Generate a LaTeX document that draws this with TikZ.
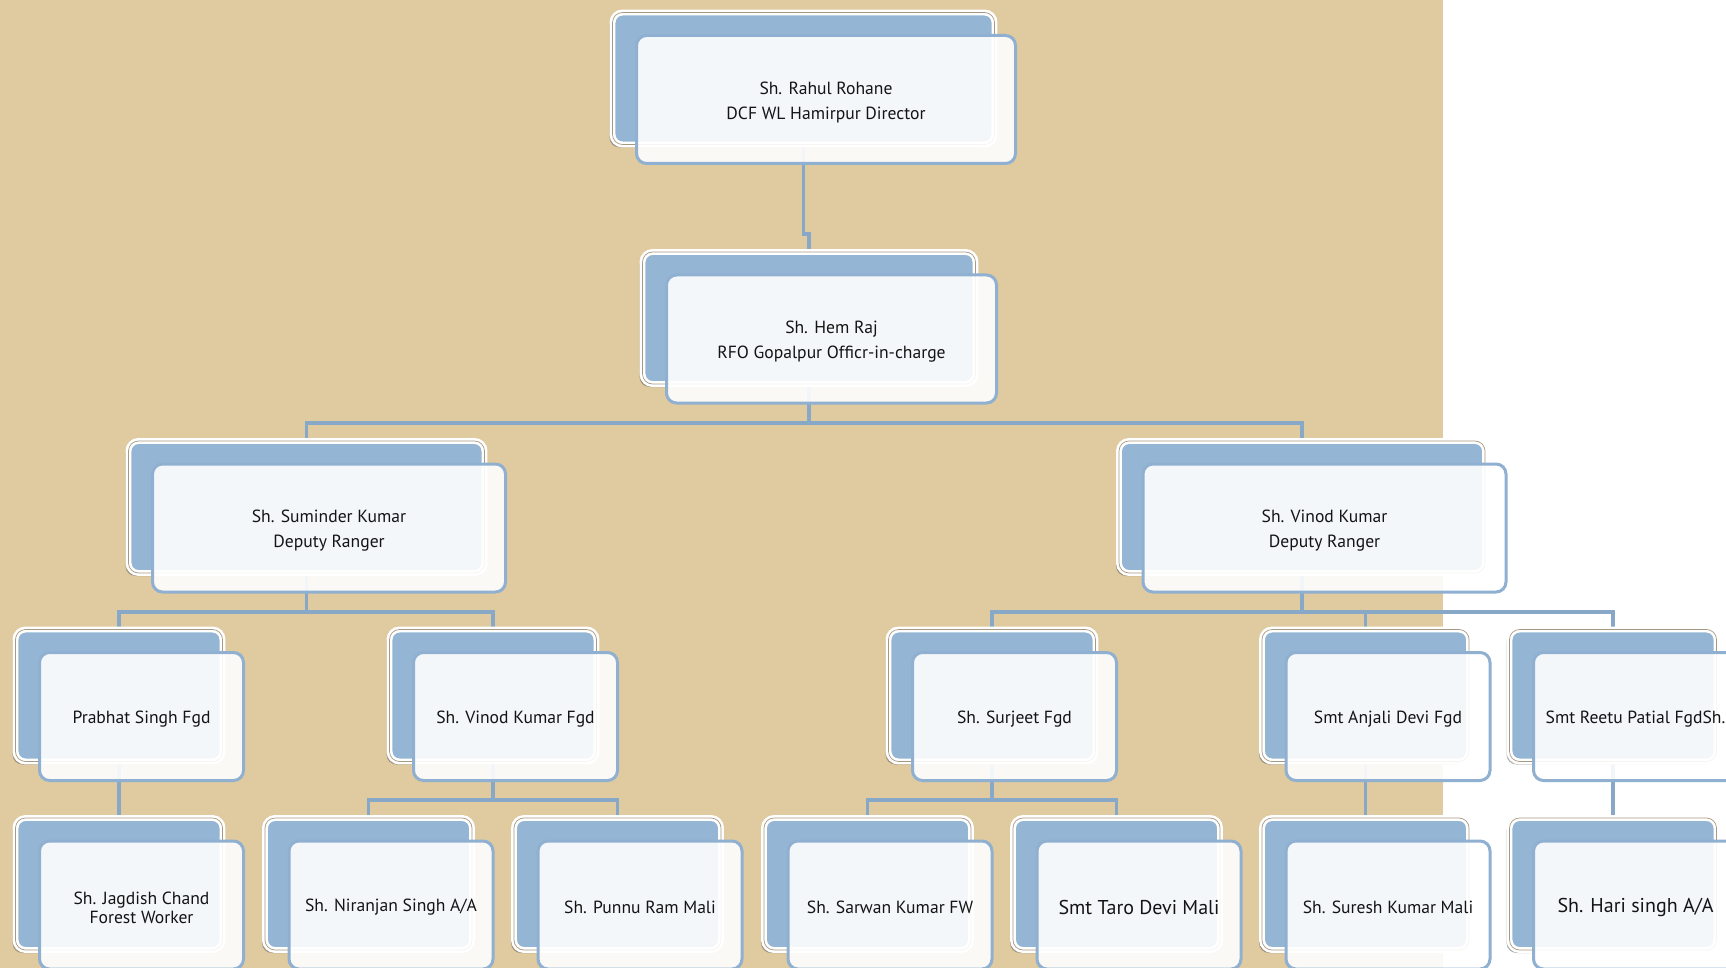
\documentclass[tikz,border=0pt]{standalone}
\usepackage{fontspec}
\setmainfont{PT Sans}
\usetikzlibrary{shadows}
\definecolor{tan}{HTML}{E0CAA0}
\definecolor{bblue}{HTML}{94B5D3}
\definecolor{fblue}{HTML}{8FB0D1}
\definecolor{lblue}{HTML}{88A8C8}
\definecolor{rimgray}{HTML}{A89A82}
\pgfdeclarelayer{paper}
\pgfdeclarelayer{lines}
\pgfsetlayers{paper,lines,main}
\tikzset{
  backbox/.style={rectangle, rounded corners=10pt, inner sep=0pt, minimum height=132pt,
    fill=bblue, draw=white, line width=2.6pt, double=rimgray, double distance=0.7pt,
    drop shadow={shadow xshift=-3pt, shadow yshift=-3pt, opacity=0.45, fill=black!70}},
  frontbox/.style={rectangle, rounded corners=10pt, inner sep=0pt, minimum height=128pt,
    fill=white, fill opacity=0.9, draw=fblue, draw opacity=1, line width=3pt},
  boxtext/.style={inner sep=0pt, align=center, font=\fontsize{17.6}{25}\selectfont, text=black!92},
  bigtext/.style={font=\fontsize{20}{24}\selectfont},
  tighttext/.style={font=\fontsize{17.6}{18.8}\selectfont},
  link/.style={draw=lblue, line width=3.5pt}
}
\newcommand\orgunit[6][]{%
  \node[backbox, minimum width=#5pt] (#2b) at (#3,#4) {};
  \node[frontbox, minimum width=#5pt-3pt] (#2) at ([shift={(22.5,21)}]#3,#4) {};
  \node[boxtext, #1] (#2t) at ([yshift=-2.5pt]#2.center) {#6};
}
\begin{document}
\begin{tikzpicture}[x=1pt,y=-1pt]
\useasboundingbox (0,0) rectangle (1726,968);
\begin{pgfonlayer}{paper}
  \fill[white] (0,0) rectangle (1726,968);
  \fill[tan] (0,0) rectangle (1443,968);
\end{pgfonlayer}
% level 0
\orgunit{rahul}{803.5}{78.5}{382}{Sh. Rahul Rohane\\DCF WL Hamirpur Director}
% level 1
\orgunit{hem}{809}{318}{333}{Sh. Hem Raj\\RFO Gopalpur Officr-in-charge}
% level 2
\orgunit{suminder}{306.5}{507}{356}{Sh. Suminder Kumar\\Deputy Ranger}
\orgunit{vinodDR}{1302}{507}{366}{Sh. Vinod Kumar\\Deputy Ranger}
% level 3
\orgunit{prabhat}{119}{695.5}{207}{Prabhat Singh Fgd}
\orgunit{vinodF}{493}{695.5}{207}{Sh. Vinod Kumar Fgd}
\orgunit{surjeet}{992}{695.5}{207}{Sh. Surjeet Fgd}
\orgunit{anjali}{1365.5}{695.5}{207}{Smt Anjali Devi Fgd}
\orgunit{reetu}{1613}{695.5}{207}{Smt Reetu Patial FgdSh.}
% level 4
\orgunit[tighttext]{jagdish}{119}{884}{207}{Sh. Jagdish Chand\\Forest Worker}
\orgunit{niranjan}{368.5}{884}{207}{Sh. Niranjan Singh A/A}
\orgunit{punnu}{617.5}{884}{207}{Sh. Punnu Ram Mali}
\orgunit{sarwan}{867.5}{884}{207}{Sh. Sarwan Kumar FW}
\orgunit[bigtext]{taro}{1116.5}{884}{207}{Smt Taro Devi Mali}
\orgunit{suresh}{1365.5}{884}{207}{Sh. Suresh Kumar Mali}
\orgunit[bigtext]{hari}{1613}{884}{207}{Sh. Hari singh A/A}
% connectors
\begin{pgfonlayer}{lines}
  \draw[link] (rahulb.south) -- (rahulb.south |- 0,234) -| (hemb.north);
  \draw[link] (hemb.south) -- (hemb.south |- 0,423);
  \draw[link] (suminderb.north) -- (suminderb.north |- 0,423) -- (vinodDRb.north |- 0,423) -- (vinodDRb.north);
  \draw[link] (suminderb.south) -- (suminderb.south |- 0,612);
  \draw[link] (prabhatb.north) -- (prabhatb.north |- 0,612) -- (vinodFb.north |- 0,612) -- (vinodFb.north);
  \draw[link] (vinodDRb.south) -- (vinodDRb.south |- 0,612);
  \draw[link] (surjeetb.north) -- (surjeetb.north |- 0,612) -- (reetub.north |- 0,612) -- (reetub.north);
  \draw[link] (anjalib.north) -- (anjalib.north |- 0,612);
  \draw[link] (prabhatb.south) -- (jagdishb.north);
  \draw[link] (vinodFb.south) -- (vinodFb.south |- 0,800);
  \draw[link] (niranjanb.north) -- (niranjanb.north |- 0,800) -- (punnub.north |- 0,800) -- (punnub.north);
  \draw[link] (surjeetb.south) -- (surjeetb.south |- 0,800);
  \draw[link] (sarwanb.north) -- (sarwanb.north |- 0,800) -- (tarob.north |- 0,800) -- (tarob.north);
  \draw[link] (anjalib.south) -- (sureshb.north);
  \draw[link] (reetub.south) -- (harib.north);
\end{pgfonlayer}
\end{tikzpicture}
\end{document}
